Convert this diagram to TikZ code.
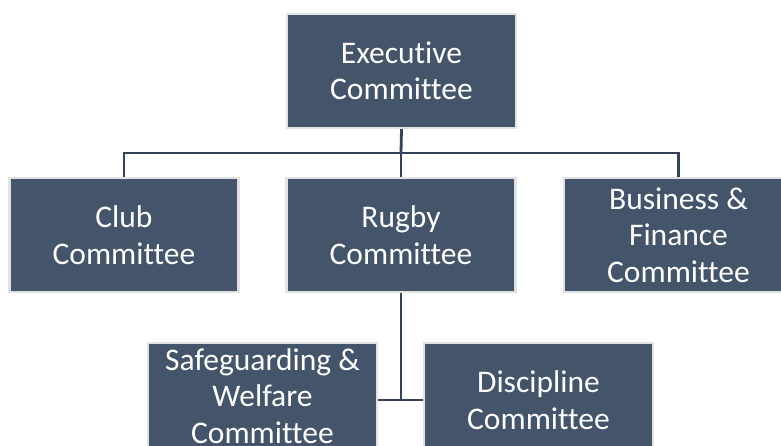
\documentclass[tikz,border=0pt]{standalone}
\usepackage{fontspec}
\setmainfont{Carlito}[Ligatures={NoCommon}]
\definecolor{boxfill}{HTML}{44546A}
\definecolor{boxedge}{HTML}{E2E2E2}
\definecolor{linkc}{HTML}{34435A}
\begin{document}
\begin{tikzpicture}[x=1pt,y=-1pt,
  orgbox/.style={rectangle, fill=boxfill, draw=boxedge, line width=2.2pt,
    minimum width=229pt, minimum height=114pt, inner sep=0pt,
    text=white, align=center, font=\fontsize{31.5}{36.5}\selectfont},
  link/.style={draw=linkc, line width=2.8pt}]
\useasboundingbox (0,0) rectangle (781,446);
\clip (0,0) rectangle (781,446);
\fill[white] (0,0) rectangle (781,446);
\node[orgbox] (exec) at (401.5,71) {Executive\\Committee};
\node[orgbox] (club) at (124,235) {Club\\Committee};
\node[orgbox] (rugby) at (401,235) {Rugby\\Committee};
\node[orgbox] (biz) at (678.5,235) {Business \&\\Finance\\Committee};
\node[orgbox, minimum height=106pt] (safe) at (262.5,396) {Safeguarding \&\\Welfare\\Committee};
\node[orgbox] (disc) at (538.5,400) {Discipline\\Committee};
\coordinate (hub) at (401,153);
\coordinate (low) at (401,400);
\draw[link] (exec.south) -- (hub);
\draw[link] (club.north) |- (hub) -| (biz.north);
\draw[link] (hub) -- (rugby.north);
\draw[link] (rugby.south) -- (low);
\draw[link] (low -| safe.east) -- (low -| disc.west);
\end{tikzpicture}
\end{document}
